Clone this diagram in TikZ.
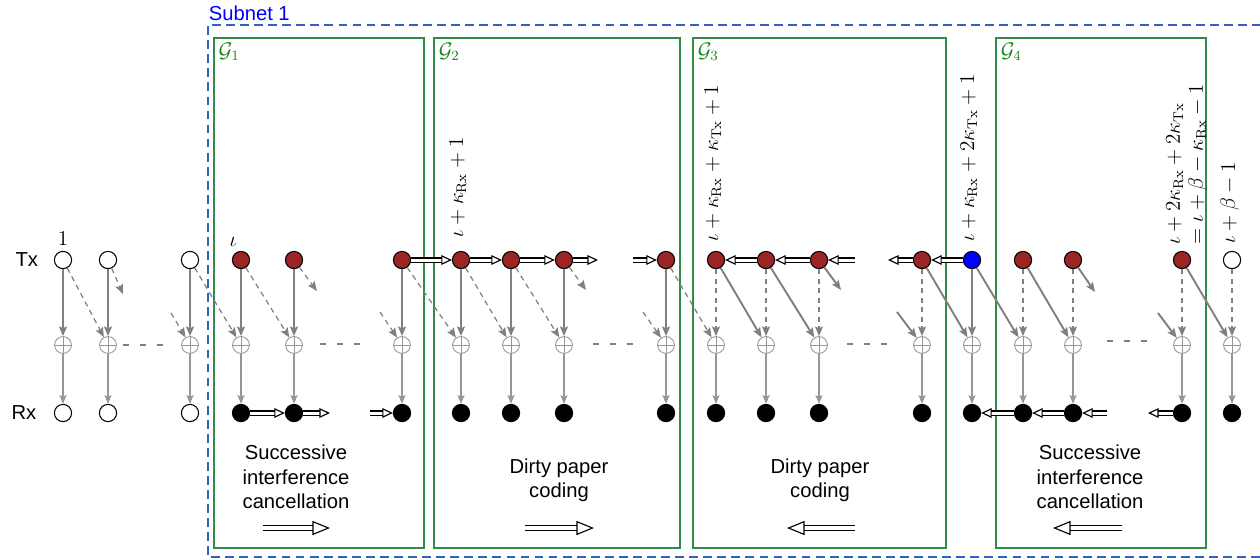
\documentclass[tikz,border=0pt]{standalone}
\usepackage[no-math]{fontspec}
\setmainfont{Liberation Sans}
\usetikzlibrary{arrows.meta,positioning}

\definecolor{txred}{RGB}{155,36,36}
\definecolor{boxgreen}{RGB}{48,140,72}
\definecolor{glblgreen}{RGB}{20,130,20}
\definecolor{netblue}{RGB}{45,100,190}
\definecolor{linkgray}{RGB}{128,128,128}
\definecolor{sumgray}{RGB}{150,150,150}

\tikzset{
  every node/.style={font=\fontsize{11.5}{13.8}\selectfont},
  mathfont/.style={font=\fontsize{12}{13}\selectfont},
  txw/.style={circle, draw, line width=0.6pt, minimum size=9.8pt, inner sep=0pt, fill=white},
  txr/.style={txw, fill=txred},
  txb/.style={txw, fill=blue},
  rxw/.style={txw},
  rxk/.style={txw, fill=black},
  sumnode/.style={circle, draw=sumgray, line width=0.5pt, minimum size=9.6pt, inner sep=0pt,
    path picture={\draw[sumgray, line width=0.5pt]
      (path picture bounding box.north) -- (path picture bounding box.south)
      (path picture bounding box.west) -- (path picture bounding box.east);}},
  link/.style={draw=linkgray, line width=1.1pt, -{Stealth[length=5.5pt, width=4.5pt, inset=1pt]}},
  weak/.style={draw=linkgray, line width=0.7pt, dash pattern=on 3pt off 2.4pt, -{Stealth[length=5.5pt, width=4.5pt, inset=1pt]}},
  down/.style={draw=sumgray, line width=0.8pt, -{Stealth[length=5pt, width=4pt, inset=1pt]}},
  dbl/.style={double, double distance=1.7pt, line width=0.65pt, -{Triangle[open, length=6pt, width=5.5pt]}},
  bigdbl/.style={double, double distance=2.6pt, line width=0.65pt, -{Triangle[open, length=10pt, width=8pt]}},
  dotsline/.style={draw=linkgray, line width=1.6pt, dash pattern=on 3.4pt off 6.2pt},
  gbox/.style={draw=boxgreen, line width=0.7pt},
  glbl/.style={text=glblgreen, anchor=north west, inner sep=2.5pt, mathfont},
  netbox/.style={draw=netblue, line width=1.1pt, dash pattern=on 5pt off 3pt},
  rlbl/.style={mathfont, rotate=90, inner sep=0pt},
}

\begin{document}
\begin{tikzpicture}[x=0.02cm, y=-0.02cm]
\useasboundingbox (0,0) rectangle (1260,559);

% subnet and groups
\draw[netbox] (1275,25) -- (208,25) -- (208,557) -- (1275,557);
\node[anchor=south west, inner sep=2pt, text=blue] (subnet) at (205,25) {Subnet 1};
\foreach \g/\a/\b in {1/214/424, 2/434/680, 3/693/946, 4/996/1206} {
  \draw[gbox] (\a,38) rectangle (\b,548);
  \node[glbl] (G\g) at (\a,38) {$\mathcal{G}_{\g}$};
}

% Tx, sum and Rx nodes
\foreach \i/\x/\ts/\rs in {1/63/txw/rxw, 2/108/txw/rxw, 3/190/txw/rxw,
    4/241/txr/rxk, 5/294/txr/rxk, 6/402/txr/rxk,
    7/461/txr/rxk, 8/511/txr/rxk, 9/564/txr/rxk, 10/666/txr/rxk,
    11/716/txr/rxk, 12/766/txr/rxk, 13/819/txr/rxk, 14/922/txr/rxk,
    15/972/txb/rxk, 16/1023/txr/rxk, 17/1073/txr/rxk, 18/1182/txr/rxk,
    19/1232/txw/rxk} {
  \node[\ts] (t\i) at (\x,260) {};
  \node[sumnode] (p\i) at (\x,345) {};
  \node[\rs] (r\i) at (\x,413) {};
  \draw[down] (p\i) -- (r\i);
}

\node[left=5.5pt of t1] (txlbl) {Tx};
\node[left=6.5pt of r1] (rxlbl) {Rx};
\node[mathfont, inner sep=1pt, above=2pt of t1] (one) {$1$};
\node[mathfont, inner sep=1pt, above left=3pt and -2.5pt of t4] (iota) {$\iota$};

% index labels
\node[rlbl, anchor=base west] (l7) at ([shift={(2,-22)}]t7) {$\iota+\kappa_{\mathrm{Rx}}+1$};
\node[rlbl, anchor=base west] (l11) at ([shift={(2,-18)}]t11) {$\iota+\kappa_{\mathrm{Rx}}+\kappa_{\mathrm{Tx}}+1$};
\node[rlbl, anchor=base west] (l15) at ([shift={(2,-18)}]t15) {$\iota+\kappa_{\mathrm{Rx}}+2\kappa_{\mathrm{Tx}}+1$};
\node[rlbl, anchor=north west, align=left] (l18) at (1166,245)
  {$\iota+2\kappa_{\mathrm{Rx}}+2\kappa_{\mathrm{Tx}}$\\$=\iota+\beta-\kappa_{\mathrm{Rx}}-1$};
\node[rlbl, anchor=base west] (l19) at ([shift={(3,-16)}]t19) {$\iota+\beta-1$};

% direct and cross links
\foreach \i in {1,...,10,15} \draw[link] (t\i) -- (p\i);
\foreach \i in {11,...,14,16,17,18,19} \draw[weak] (t\i) -- (p\i);
\foreach \i/\j in {1/2, 3/4, 4/5, 6/7, 7/8, 8/9, 10/11} \draw[weak] (t\i) -- (p\j);
\foreach \i/\j in {11/12, 12/13, 14/15, 15/16, 16/17, 18/19} \draw[link] (t\i) -- (p\j);

% links into and out of the gaps
\coordinate (o2) at (123,294);
\coordinate (o5) at (317,291);
\coordinate (o9) at (586,290);
\coordinate (o13) at (841,290);
\coordinate (o17) at (1095,292);
\coordinate (i3) at (171,313);
\coordinate (i6) at (380,312);
\coordinate (i10) at (643,312);
\coordinate (i14) at (897,312);
\coordinate (i18) at (1158,313);
\draw[weak] (t2) -- (o2);
\draw[weak] (t5) -- (o5);
\draw[weak] (t9) -- (o9);
\draw[link] (t13) -- (o13);
\draw[link] (t17) -- (o17);
\draw[weak] (i3) -- (p3);
\draw[weak] (i6) -- (p6);
\draw[weak] (i10) -- (p10);
\draw[link] (i14) -- (p14);
\draw[link] (i18) -- (p18);

% gaps
\foreach \a/\b/\y in {123/165/345, 320/360/344, 593/633/344, 847/888/344, 1107/1148/341}
  \draw[dotsline] (\a,\y) -- (\b,\y);

% coding order
\foreach \a/\b in {r4/r5, t6/t7, t7/t8, t8/t9, t12/t11, t13/t12, t15/t14, r16/r15, r17/r16}
  \draw[dbl] (\a) -- (\b);
\coordinate (a5) at (330,413);
\coordinate (b6) at (370,413);
\coordinate (a9) at (598,260);
\coordinate (b10) at (633,260);
\coordinate (b13) at (855,260);
\coordinate (a14) at (888,260);
\coordinate (b17) at (1107,413);
\coordinate (a18) at (1148,413);
\draw[dbl] (r5) -- (a5);
\draw[dbl] (b6) -- (r6);
\draw[dbl] (t9) -- (a9);
\draw[dbl] (b10) -- (t10);
\draw[dbl] (b13) -- (t13);
\draw[dbl] (t14) -- (a14);
\draw[dbl] (b17) -- (r17);
\draw[dbl] (r18) -- (a18);

% schemes
\node[align=center] (sic1) at (296,477) {Successive\\interference\\cancellation};
\node[align=center] (dpc2) at (559,480) {Dirty paper\\coding};
\node[align=center] (dpc3) at (820,480) {Dirty paper\\coding};
\node[align=center] (sic4) at (1090,477) {Successive\\interference\\cancellation};
\foreach \a/\b in {263/330, 525/594, 855/787, 1122/1053}
  \draw[bigdbl] (\a,528) -- (\b,528);
\end{tikzpicture}
\end{document}
